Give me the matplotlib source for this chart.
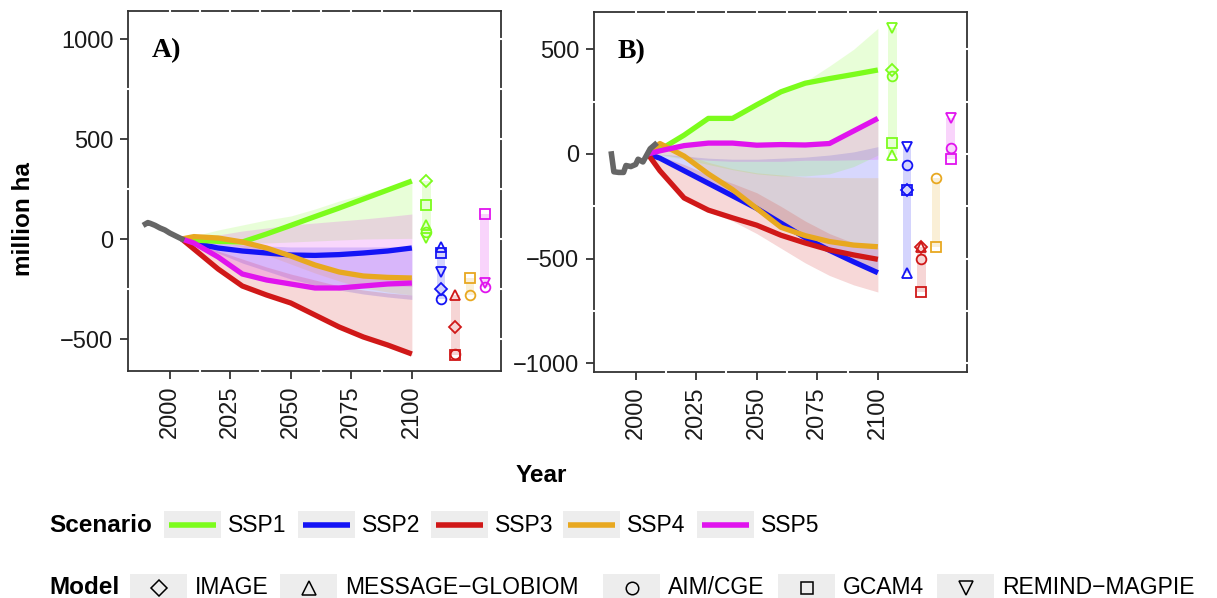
import matplotlib
matplotlib.use('Agg')
import matplotlib.pyplot as plt
from matplotlib.patches import Rectangle
from matplotlib.ticker import FixedLocator
import numpy as np

plt.rcParams['font.family'] = ['Liberation Sans', 'DejaVu Sans']

# ---- data (million ha) ----
scenarios = ['SSP1', 'SSP2', 'SSP3', 'SSP4', 'SSP5']
models = ['IMAGE', 'MESSAGE\u2212GLOBIOM', 'AIM/CGE', 'GCAM4', 'REMIND\u2212MAGPIE']
years = [2005, 2010, 2020, 2030, 2040, 2050, 2060, 2070, 2080, 2090, 2100]

hist_years_a = [1990, 1991, 1992, 1994, 1996, 1998, 2000, 2002, 2005]
hist_a = [75, 82, 78, 68, 55, 45, 30, 18, 0]
hist_years_b = [1990, 1991, 1993, 1995, 1996, 1998, 2000, 2001, 2003, 2006, 2008]
hist_b = [0, -85, -88, -88, -55, -60, -50, -25, -38, 25, 45]

# panel A: marker-model line, and range over models
lines_a = [
    [0, -5, -12, -15, 25, 68, 112, 155, 200, 245, 290],
    [0, -20, -45, -60, -70, -80, -82, -78, -70, -60, -45],
    [0, -50, -150, -235, -280, -320, -380, -440, -490, -530, -575],
    [0, 12, 5, -15, -45, -85, -130, -165, -185, -192, -195],
    [0, -20, -90, -175, -205, -225, -245, -245, -235, -225, -220],
]
low_a = [
    [0, -5, -15, -20, -20, -15, -10, -5, 0, 2, 3],
    [0, -25, -70, -120, -160, -200, -230, -255, -275, -290, -302],
    [0, -50, -150, -235, -285, -325, -385, -445, -495, -540, -582],
    [0, 5, -10, -40, -80, -125, -170, -210, -245, -265, -280],
    [0, -25, -95, -180, -210, -230, -248, -248, -240, -232, -238],
]
high_a = [
    [0, 15, 45, 70, 95, 115, 150, 190, 225, 258, 290],
    [0, -5, -20, -30, -35, -40, -40, -40, -40, -39, -38],
    [0, -20, -60, -100, -140, -175, -205, -235, -255, -270, -280],
    [0, 12, 5, -15, -45, -85, -130, -165, -185, -192, -193],
    [0, 5, 20, 40, 55, 70, 80, 90, 100, 112, 125],
]
# 2100 value per scenario (rows) and model (cols); None = not run
models_a = [
    [290, 70, 35, 170, 3],
    [-252, -38, -302, -68, -163],
    [-442, -280, -575, -582, None],
    [None, None, -280, -193, None],
    [None, None, -238, 125, -222],
]

# panel B
lines_b = [
    [0, 20, 90, 170, 170, 235, 297, 338, 360, 380, 401],
    [0, -20, -80, -140, -200, -260, -330, -400, -460, -515, -567],
    [0, -80, -210, -268, -305, -340, -388, -425, -458, -482, -503],
    [0, 50, -10, -95, -170, -260, -350, -390, -418, -435, -443],
    [0, 15, 40, 52, 52, 42, 45, 43, 50, 110, 170],
]
low_b = [
    [0, -5, -25, -50, -75, -95, -105, -105, -95, -60, -5],
    [0, -20, -80, -140, -200, -262, -332, -402, -462, -517, -570],
    [0, -80, -210, -275, -320, -380, -450, -520, -580, -625, -659],
    [0, 45, -10, -95, -172, -262, -352, -392, -420, -437, -445],
    [0, 0, -20, -30, -35, -35, -35, -30, -30, -28, -25],
]
high_b = [
    [0, 20, 90, 170, 175, 240, 300, 345, 420, 500, 600],
    [0, 0, -10, -20, -25, -25, -20, -15, -5, 10, 35],
    [0, -10, -50, -100, -140, -185, -250, -320, -380, -425, -446],
    [0, 50, 0, -40, -70, -90, -100, -110, -112, -113, -113],
    [0, 15, 40, 52, 55, 50, 50, 50, 60, 112, 170],
]
models_b = [
    [400, -5, 372, 54, 600],
    [-172, -570, -52, -172, 35],
    [-446, -446, -503, -659, None],
    [None, None, -113, -443, None],
    [None, None, 27, -25, 170],
]

colors = ['#7CFC1C', '#1414F5', '#D01818', '#E8A820', '#E014EE']
markers = ['D', '^', 'o', 's', 'v']
marker_sizes = [6, 7.5, 7, 7, 7.5]
col_x = [2106, 2112, 2118, 2124, 2130]   # where the 2100 model spread is shown
draw_order = [1, 0, 2, 3, 4]

fig = plt.figure(figsize=(12.17, 5.98), dpi=100)
W, H = 1217, 598

# legend / annotation layer in pixel coordinates
lay = fig.add_axes([0, 0, 1, 1], zorder=-1)
lay.set_xlim(0, W)
lay.set_ylim(H, 0)
lay.axis('off')

gap = dict(direction='inout', length=4, width=1.5, color='white')


def panel(rect, hist_years, hist, lines, low, high, model_vals, ylim, yticks, yminor, tag):
    ax = fig.add_axes(rect)
    for i in draw_order:
        ax.fill_between(years, low[i], high[i], color=colors[i], alpha=0.17, lw=0, zorder=1)
    for i in draw_order:
        ax.plot(years, lines[i], color=colors[i], lw=3.8, solid_capstyle='butt', zorder=3)
    ax.plot(hist_years, hist, color='#666666', lw=4, zorder=3)

    # model spread at 2100
    for i in range(len(scenarios)):
        vals = [v for v in model_vals[i] if v is not None]
        ax.bar(col_x[i], max(vals) - min(vals), bottom=min(vals), width=3.6,
               color=colors[i], alpha=0.18, lw=0, zorder=2)
        for j, v in enumerate(model_vals[i]):
            if v is None:
                continue
            ax.plot(col_x[i], v, marker=markers[j], ms=marker_sizes[j], mfc='none',
                    mec=colors[i], mew=1.3, ls='none', zorder=4)

    ax.set_xlim(1982.8, 2136.8)
    ax.set_ylim(*ylim)
    xt = [2000, 2025, 2050, 2075, 2100]
    xminor = [2012.5, 2037.5, 2062.5, 2087.5]
    ax.set_xticks(xt)
    ax.set_xticklabels([str(t) for t in xt], rotation=90)
    ax.set_yticks(yticks)
    ax.set_yticklabels([str(t).replace('-', '\u2212') for t in yticks])
    ax.xaxis.set_minor_locator(FixedLocator(xminor))
    ax.yaxis.set_minor_locator(FixedLocator(yminor))
    ax.tick_params(which='major', direction='out', length=6, width=1.3, color='#333333',
                   labelsize=17, labelcolor='#1a1a1a', pad=4.5)
    ax.tick_params(which='minor', **gap)
    for s in ax.spines.values():
        s.set_color('#333333')
        s.set_linewidth(1.3)
        s.set_zorder(1.2)

    # white gaps along top / right border where the grid would meet it
    top = ax.secondary_xaxis('top')
    top.set_xticks(xt + xminor)
    top.tick_params(labeltop=False, **gap)
    top.spines['top'].set_visible(False)
    top.set_zorder(5)
    right = ax.secondary_yaxis('right')
    right.set_yticks(list(yticks) + list(yminor))
    right.tick_params(labelright=False, **gap)
    right.spines['right'].set_visible(False)
    right.set_zorder(5)

    ax.text(0.064, 0.89, tag, transform=ax.transAxes, fontsize=20, fontweight='bold',
            family=['Liberation Serif', 'DejaVu Serif'], va='center', ha='left')
    return ax


ax_a = panel([128 / W, 1 - 371 / H, 373 / W, 360 / H], hist_years_a, hist_a,
             lines_a, low_a, high_a, models_a, (-660, 1140),
             [-500, 0, 500, 1000], [-250, 250, 750], 'A)')
ax_b = panel([594 / W, 1 - 372 / H, 373 / W, 360 / H], hist_years_b, hist_b,
             lines_b, low_b, high_b, models_b, (-1041, 678),
             [-1000, -500, 0, 500], [-750, -250, 250], 'B)')

lay.text(24, 219, 'million ha', rotation=90, fontsize=17.5, fontweight='bold',
         ha='center', va='center')
lay.text(541, 475, 'Year', fontsize=17.5, fontweight='bold', ha='center', va='center')

# Scenario legend
lay.text(49, 525, 'Scenario', fontsize=17.5, fontweight='bold', ha='left', va='center')
scen_box = [164, 298, 431, 563, 697]
for i, name in enumerate(scenarios):
    x0 = scen_box[i]
    lay.add_patch(Rectangle((x0, 511), 57, 27, color='#EDEDED', lw=0))
    lay.plot([x0 + 5, x0 + 52], [524.5, 524.5], color=colors[i], lw=4, solid_capstyle='butt')
    lay.text(x0 + 64, 525, name, fontsize=16.5, ha='left', va='center')

# Model legend
lay.text(49, 588, 'Model', fontsize=17.5, fontweight='bold', ha='left', va='center')
model_box = [130, 280, 603, 778, 937]
for j, name in enumerate(models):
    x0 = model_box[j]
    lay.add_patch(Rectangle((x0, 574), 57, 27, color='#EDEDED', lw=0))
    lay.plot(x0 + 28.5, 587.5, marker=markers[j], ms=marker_sizes[j] + 2, mfc='none',
             mec='black', mew=1.1, ls='none')
    lay.text(x0 + 65, 588, name, fontsize=16.5, ha='left', va='center')

fig.savefig('out.png', dpi=100)
